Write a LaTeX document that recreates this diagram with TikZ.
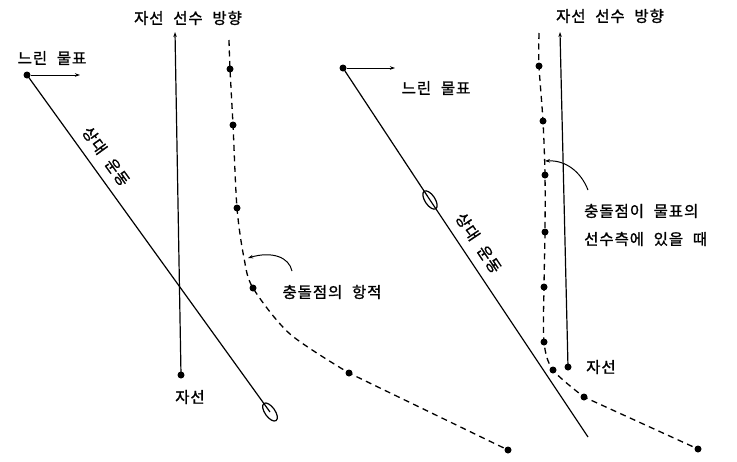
\documentclass[tikz,border=0pt]{standalone}
\usepackage{fontspec}
\setmainfont{Noto Sans CJK KR}[WordSpace=2.2, LetterSpace=6, FakeBold=1.2]
\usetikzlibrary{arrows.meta,shapes.geometric}
\begin{document}
\begin{tikzpicture}[x=1pt,y=-1pt,
  ln/.style={line width=1.2pt},
  thin ln/.style={line width=1pt},
  track/.style={line width=1.3pt, dash pattern=on 6pt off 4.5pt},
  dot/.style={circle, fill=black, inner sep=0pt, minimum size=7pt},
  lbl/.style={font=\fontsize{15.5}{18}\selectfont, inner sep=0pt},
  tip/.style={-{Stealth[length=5pt,width=3.5pt]}},
  ship/.style={draw, ellipse, line width=1.2pt, inner sep=0pt, minimum width=10pt, minimum height=21pt}]
\useasboundingbox (0,0) rectangle (737,461);

% ---------------- left diagram ----------------
\node[dot] (lt) at (27,75) {};
\coordinate (ltarr) at (80,75);
\draw[thin ln,tip] (lt) -- (ltarr);
\node[lbl] (ltl) at (52,58) {느린 물표};

\node[dot] (lown) at (181,375) {};
\coordinate (lhead) at (175,32);
\draw[ln,tip] (lown.center) -- (lhead);
\node[lbl] (lhl) at (188,18) {자선 선수 방향};
\node[lbl] (lownl) at (190,397) {자선};

\node[ship, rotate=35.6] (lship) at (270,412) {};
\draw[ln] (lt.center) -- node[sloped, above=9pt, pos=0.27, lbl] (lrell) {상대 운동} (lship.center);

\coordinate (ltop) at (229,40);
\node[dot] (l1) at (230,69) {};
\node[dot] (l2) at (233,125) {};
\node[dot] (l3) at (237,208) {};
\node[dot] (l4) at (253,288) {};
\node[dot] (l5) at (349,373) {};
\node[dot] (l6) at (508,450) {};
\coordinate (la) at (244,258);
\coordinate (lb) at (290,334);
\draw[track] plot[smooth, tension=0.5] coordinates {(ltop) (l1.center) (l2.center) (l3.center) (la) (l4.center) (lb) (l5.center)} -- (l6.center);

\node[lbl] (ltrk) at (332,292) {충돌점의 항적};
\coordinate (ls) at (292,271);
\coordinate (le) at (248,258);
\draw[thin ln,tip] (ls) .. controls (289,257) and (272,251) .. (le);

% ---------------- right diagram ----------------
\node[dot] (rt) at (343,68) {};
\coordinate (rtarr) at (395,68);
\draw[thin ln,tip] (rt) -- (rtarr);
\node[lbl] (rtl) at (436,88) {느린 물표};

\node[dot] (rown) at (568,367) {};
\coordinate (rhead) at (560,32);
\draw[ln,tip] (rown.center) -- (rhead);
\node[lbl] (rhl) at (610,16) {자선 선수 방향};
\node[lbl] (rownl) at (601,367) {자선};

\node[ship, rotate=33.6] (rship) at (430,200) {};
\coordinate (rend) at (588,437);
\draw[ln] (rt.center) -- (rship.center) -- node[sloped, above=9pt, pos=0.22, lbl] (rrell) {상대 운동} (rend);

\coordinate (rtop) at (539,33);
\node[dot] (r1) at (539,66) {};
\node[dot] (r2) at (543,121) {};
\node[dot] (r3) at (545,175) {};
\node[dot] (r4) at (545,232) {};
\node[dot] (r5) at (544,287) {};
\node[dot] (r6) at (544,342) {};
\node[dot] (r7) at (553,370) {};
\node[dot] (r8) at (584,397) {};
\node[dot] (r9) at (698,449) {};
\draw[track] plot[smooth, tension=0.5] coordinates {(rtop) (r1.center) (r2.center) (r3.center) (r4.center) (r5.center) (r6.center) (r7.center) (r8.center)} -- (r9.center);

\node[lbl, anchor=west] (rc1) at (584,211) {충돌점이 물표의};
\node[lbl, anchor=west] (rc2) at (584,239) {선수측에 있을 때};
\coordinate (rs) at (588,190);
\coordinate (re) at (545,161);
\draw[thin ln,tip] (rs) .. controls (581,172) and (566,160) .. (re);
\end{tikzpicture}
\end{document}
